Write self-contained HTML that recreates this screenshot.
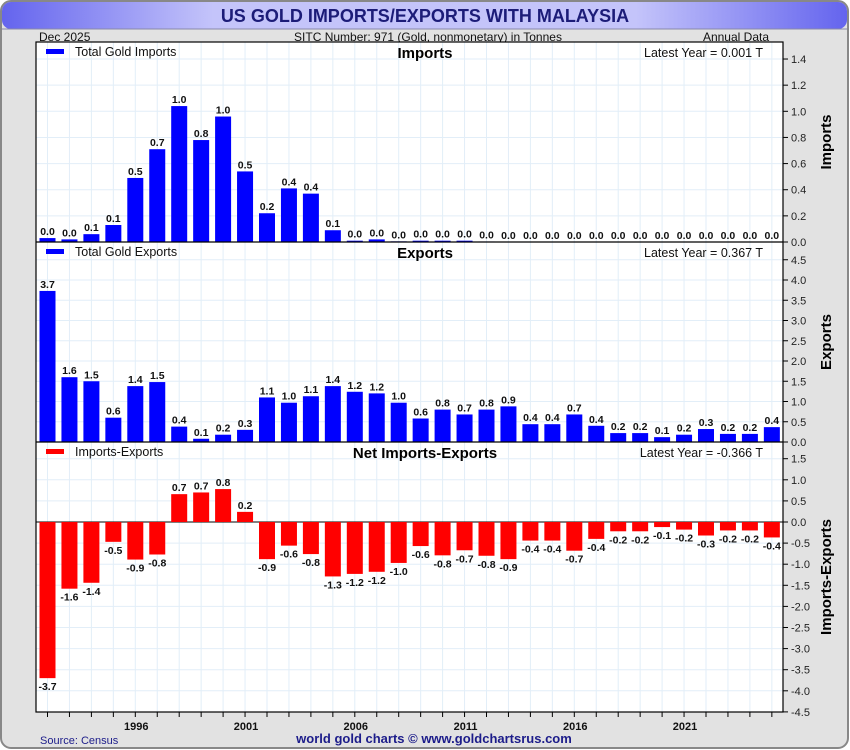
<!DOCTYPE html>
<html><head><meta charset="utf-8"><style>
html,body{margin:0;padding:0;background:#fff;}
svg{display:block;font-family:"Liberation Sans",sans-serif;}
</style></head><body>
<svg id="chart" width="850" height="750" viewBox="0 0 850 750" xmlns="http://www.w3.org/2000/svg">
<defs>
<linearGradient id="tg" x1="0" x2="1" y1="0" y2="0">
<stop offset="0" stop-color="#6464ee"/><stop offset="0.25" stop-color="#c4c4fa"/><stop offset="0.75" stop-color="#c4c4fa"/><stop offset="1" stop-color="#6464ee"/>
</linearGradient>
</defs>
<rect x="1" y="1" width="847" height="747" rx="10" fill="#e2e2e2" stroke="#888" stroke-width="2"/>
<rect x="2" y="2" width="845" height="27" rx="9" fill="url(#tg)"/>
<line x1="2" y1="29" x2="847" y2="29" stroke="#8888aa"/>
<text x="425" y="22" text-anchor="middle" font-size="18" font-weight="bold" fill="#1c1c78">US GOLD IMPORTS/EXPORTS WITH MALAYSIA</text>
<text x="39" y="41" font-size="12" fill="#111">Dec  2025</text>
<text x="428" y="41" text-anchor="middle" font-size="12" fill="#111">SITC Number: 971 (Gold, nonmonetary) in Tonnes</text>
<text x="769" y="41" text-anchor="end" font-size="12" fill="#111">Annual Data</text>
<rect x="36" y="42" width="747" height="670" fill="#fff"/>
<g id="grid"></g>
<g id="panels"></g>
<rect x="36" y="42" width="747" height="670" fill="none" stroke="#000" stroke-width="1.2"/>
<g id="xaxis"></g>
<text x="40" y="744" font-size="11" fill="#1c1c8a">Source: Census</text>
<text x="434" y="743" text-anchor="middle" font-size="13" font-weight="bold" fill="#1c1c8a">world gold charts © www.goldchartsrus.com</text>
</svg>
<script>
const years = [1992,1993,1994,1995,1996,1997,1998,1999,2000,2001,2002,2003,2004,2005,2006,2007,2008,2009,2010,2011,2012,2013,2014,2015,2016,2017,2018,2019,2020,2021,2022,2023,2024,2025];
const imports = [0.03,0.02,0.06,0.13,0.49,0.71,1.04,0.78,0.96,0.54,0.22,0.41,0.37,0.09,0.01,0.02,0.005,0.01,0.01,0.01,0.004,0,0,0,0,0,0,0,0,0,0,0,0,0.001];
const exportsV = [3.73,1.6,1.5,0.6,1.38,1.48,0.38,0.08,0.18,0.3,1.1,0.97,1.13,1.38,1.24,1.2,0.97,0.58,0.8,0.68,0.8,0.88,0.44,0.44,0.68,0.4,0.22,0.22,0.12,0.18,0.32,0.2,0.2,0.367];
const net = [-3.7,-1.58,-1.44,-0.47,-0.89,-0.77,0.66,0.7,0.78,0.24,-0.88,-0.56,-0.76,-1.29,-1.23,-1.18,-0.97,-0.57,-0.79,-0.67,-0.8,-0.88,-0.44,-0.44,-0.68,-0.4,-0.22,-0.22,-0.12,-0.18,-0.32,-0.2,-0.2,-0.366];
const xLabels = [1996,2001,2006,2011,2016,2021];
const impTicks = [0,0.2,0.4,0.6,0.8,1.0,1.2,1.4];
const expTicks = [0,0.5,1,1.5,2,2.5,3,3.5,4,4.5];
const netTicks = [1.5,1,0.5,0,-0.5,-1,-1.5,-2,-2.5,-3,-3.5,-4,-4.5];

const NS="http://www.w3.org/2000/svg";
function mk(tag,attrs,parent,text){const e=document.createElementNS(NS,tag);for(const k in attrs)e.setAttribute(k,attrs[k]);if(text!==undefined)e.textContent=text;parent.appendChild(e);return e;}
const X0=36,X1=783;
const x=i=>47.5+i*21.95;
const grid=document.getElementById('grid'),panels=document.getElementById('panels'),xa=document.getElementById('xaxis');
for(let i=0;i<years.length;i++){const gx=x(i);mk('line',{x1:gx,x2:gx,y1:42,y2:712,stroke:'#e2eef8','stroke-width':1},grid);}
const panelsDef=[
 {name:'imports',vals:imports,ticks:impTicks,top:42,bot:242,y:v=>242-v*130.7,fmt:v=>v.toFixed(1),color:'#0000ff',legend:'Total Gold Imports',title:'Imports',latest:'Latest Year = 0.001 T',axis:'Imports'},
 {name:'exports',vals:exportsV,ticks:expTicks,top:242,bot:442,y:v=>442-v*40.5,fmt:v=>v.toFixed(1),color:'#0000ff',legend:'Total Gold Exports',title:'Exports',latest:'Latest Year = 0.367 T',axis:'Exports'},
 {name:'net',vals:net,ticks:netTicks,top:442,bot:712,y:v=>522-v*42.2,fmt:v=>v.toFixed(1),color:'#ff0000',legend:'Imports-Exports',title:'Net Imports-Exports',latest:'Latest Year = -0.366 T',axis:'Imports-Exports'}
];
panelsDef.forEach(p=>{
  const g=mk('g',{},panels);
  
  
  p.ticks.forEach(t=>{const ty=p.y(t);
    if(ty>p.top+2&&ty<p.bot-1)mk('line',{x1:X0,x2:X1,y1:ty,y2:ty,stroke:'#e2eef8'},grid);
    mk('line',{x1:X1,x2:X1+5,y1:ty,y2:ty,stroke:'#000'},g);
    const tl=mk('text',{x:X1+8,y:ty+4,'font-size':11,fill:'#222'},g,t.toFixed(1));
    
    
  });
  if(p.name!=='imports')mk('line',{x1:X0,x2:X1,y1:p.top,y2:p.top,stroke:'#000','stroke-width':1.2},g);
  const z=p.y(0);
  if(p.name==='net')mk('line',{x1:X0,x2:X1,y1:z,y2:z,stroke:'#000'},g);
  p.vals.forEach((v,i)=>{
    const yv=p.y(v),top=Math.min(yv,z),h=Math.abs(yv-z);
    const r=mk('rect',{x:x(i)-8,y:top,width:16,height:Math.max(h,0),fill:p.color},g);
    
    
    const ly=v>=0?top-3:yv+12;
    const lb=mk('text',{x:x(i),y:ly,'text-anchor':'middle','font-size':10.5,'font-weight':'bold',fill:'#111'},g,p.fmt(v));
    
    
  });
  const ll=mk('rect',{x:46,y:p.top+7,width:18,height:5,fill:p.color},g);
  
  
  const lt=mk('text',{x:75,y:p.top+14,'font-size':12.5,fill:'#111'},g,p.legend);
  
  
  const pt=mk('text',{x:425,y:p.top+16,'text-anchor':'middle','font-size':15,'font-weight':'bold',fill:'#000'},g,p.title);
  
  
  const lat=mk('text',{x:763,y:p.top+15,'text-anchor':'end','font-size':12.5,fill:'#111'},g,p.latest);
  
  
  const cy=(p.top+p.bot)/2;
  const at=mk('text',{x:831,y:cy,'text-anchor':'middle','font-size':15,'font-weight':'bold',fill:'#000',transform:'rotate(-90 831 '+cy+')'},g,p.axis);
  
  
});
years.forEach((yr,i)=>{mk('line',{x1:x(i),x2:x(i),y1:712,y2:717,stroke:'#000'},xa);});
xLabels.forEach(yr=>{const i=years.indexOf(yr);
  const t=mk('text',{x:x(i)+1,y:730,'text-anchor':'middle','font-size':11,'font-weight':'bold',fill:'#111'},xa,String(yr));
  
  
});
</script>
</body></html>
